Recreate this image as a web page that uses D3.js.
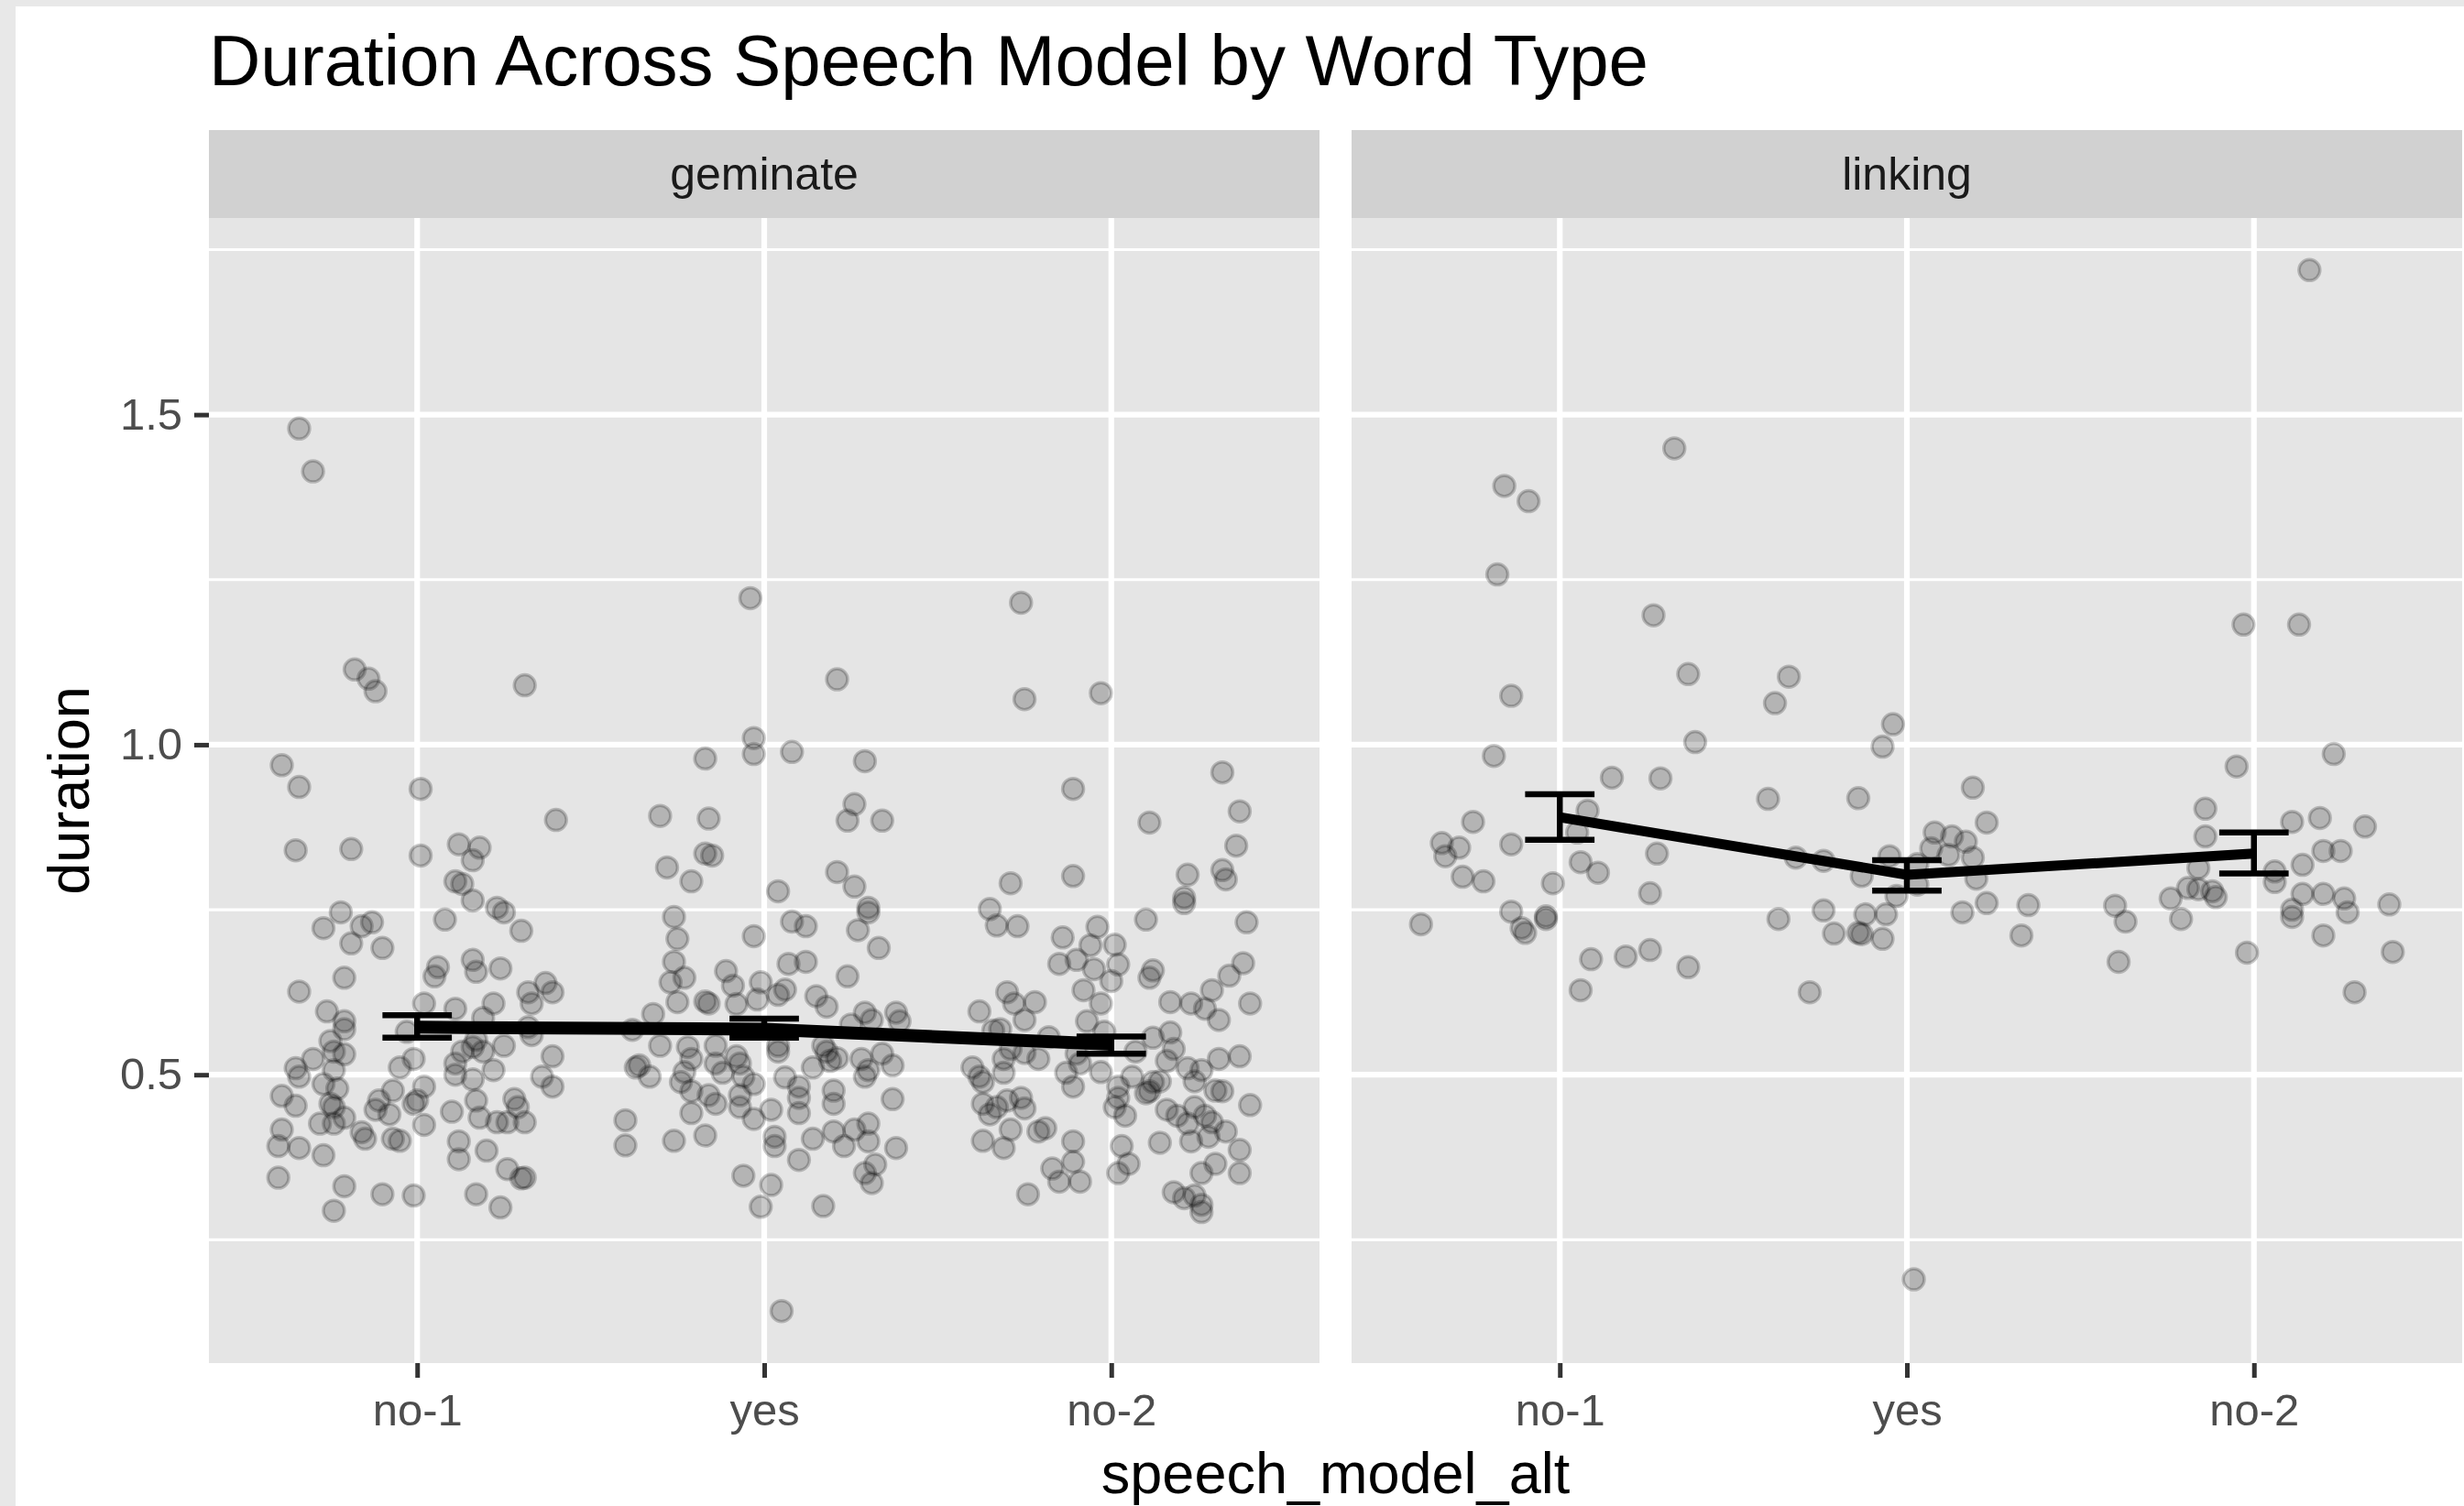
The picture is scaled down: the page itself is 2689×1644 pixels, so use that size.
<!DOCTYPE html>
<html>
<head>
<meta charset="utf-8">
<style>
  body { margin: 0; background: #e8e8e8; }
  svg { display: block; }
  text { font-family: "Liberation Sans", Arial, Helvetica, sans-serif; }
</style>
</head>
<body>
<svg id="chart" width="2689" height="1644"></svg>

<script src="https://cdn.jsdelivr.net/npm/d3@7"></script>
<script>
    // categories and facets
    let categories = ["no-1", "yes", "no-2"]
    let facets = ["geminate", "linking"]
    let yMajor = [0.5, 1.0, 1.5]
    let yMinor = [0.25, 0.75, 1.25, 1.75]

    // jittered points: [jitter offset (in category steps), duration]
    let geminateNo1 = [[-0.39,0.969],[-0.34,0.936],[0.01,0.933],[0.40,0.886],[-0.35,0.840],[-0.19,0.842],[0.01,0.832],[0.12,0.849],[0.18,0.844],[0.16,0.825],[0.11,0.793],[0.13,0.789],[0.16,0.764],[0.23,0.753],[0.25,0.746],[0.30,0.718],[0.08,0.735],[-0.22,0.746],[-0.27,0.722],[-0.16,0.725],[-0.13,0.731],[-0.19,0.699],[-0.10,0.692],[-0.21,0.647],[-0.34,0.626],[0.06,0.663],[0.05,0.649],[0.16,0.674],[0.17,0.656],[0.24,0.661],[0.32,0.625],[0.37,0.639],[0.39,0.625],[0.33,0.608],[0.02,0.608],[0.11,0.600],[0.22,0.608],[-0.26,0.596],[-0.21,0.581],[-0.21,0.569],[-0.03,0.565],[0.19,0.586],[0.17,0.553],[0.25,0.544],[0.33,0.560],[0.32,0.572],[-0.25,0.551],[-0.24,0.535],[-0.21,0.531],[-0.30,0.524],[-0.35,0.510],[-0.34,0.497],[-0.24,0.507],[-0.01,0.524],[-0.05,0.511],[0.11,0.517],[0.13,0.535],[0.16,0.542],[0.19,0.535],[0.11,0.500],[0.16,0.493],[0.22,0.507],[0.39,0.528],[0.36,0.497],[0.39,0.482],[-0.39,0.468],[-0.35,0.453],[-0.27,0.486],[-0.25,0.456],[-0.23,0.479],[-0.24,0.451],[-0.21,0.435],[-0.28,0.426],[-0.24,0.426],[-0.07,0.476],[-0.11,0.461],[-0.12,0.447],[-0.08,0.440],[0.02,0.482],[0.00,0.461],[-0.01,0.456],[0.02,0.424],[0.10,0.444],[0.17,0.461],[0.18,0.435],[0.23,0.428],[0.26,0.428],[0.28,0.463],[0.29,0.451],[0.31,0.428],[-0.39,0.417],[-0.40,0.392],[-0.34,0.389],[-0.27,0.378],[-0.16,0.413],[-0.15,0.403],[-0.07,0.403],[-0.05,0.400],[0.12,0.399],[0.12,0.372],[0.20,0.385],[-0.40,0.344],[-0.21,0.331],[-0.10,0.319],[-0.01,0.317],[-0.24,0.294],[0.17,0.319],[0.24,0.299],[0.26,0.357],[0.30,0.343],[0.31,0.344],[-0.34,1.479],[-0.30,1.414],[-0.18,1.114],[-0.14,1.100],[-0.12,1.081],[0.31,1.090]]
    let geminateYes = [[-0.17,0.979],[-0.03,1.010],[-0.03,0.986],[0.08,0.989],[0.29,0.975],[-0.30,0.892],[-0.16,0.888],[0.26,0.910],[0.24,0.885],[0.34,0.885],[-0.28,0.814],[-0.17,0.835],[-0.15,0.832],[-0.21,0.793],[0.04,0.778],[0.21,0.807],[0.26,0.785],[0.30,0.753],[0.30,0.746],[0.27,0.719],[0.33,0.692],[-0.26,0.739],[-0.25,0.706],[-0.03,0.710],[0.08,0.732],[0.12,0.725],[-0.26,0.671],[-0.23,0.647],[-0.27,0.640],[-0.25,0.610],[-0.11,0.657],[-0.09,0.635],[-0.17,0.611],[-0.16,0.608],[-0.08,0.607],[-0.01,0.640],[-0.02,0.614],[0.07,0.668],[0.12,0.671],[0.06,0.629],[0.04,0.621],[0.24,0.649],[0.15,0.619],[0.18,0.603],[0.29,0.594],[0.31,0.583],[0.38,0.594],[0.39,0.581],[0.25,0.576],[-0.32,0.592],[-0.38,0.568],[-0.30,0.544],[-0.37,0.511],[-0.36,0.514],[-0.33,0.497],[-0.22,0.542],[-0.21,0.524],[-0.23,0.504],[-0.24,0.489],[-0.14,0.544],[-0.14,0.517],[-0.12,0.503],[-0.08,0.528],[-0.07,0.517],[-0.03,0.486],[-0.06,0.497],[0.04,0.535],[0.04,0.544],[0.14,0.511],[0.06,0.496],[0.10,0.482],[0.10,0.465],[0.18,0.535],[0.19,0.521],[0.21,0.525],[0.17,0.544],[0.28,0.524],[0.30,0.507],[0.29,0.497],[0.34,0.532],[0.37,0.514],[-0.21,0.475],[-0.21,0.442],[-0.16,0.469],[-0.14,0.456],[-0.07,0.469],[-0.07,0.451],[-0.03,0.433],[0.02,0.447],[0.10,0.442],[0.20,0.476],[0.20,0.456],[0.37,0.463],[-0.40,0.431],[-0.40,0.393],[-0.26,0.400],[-0.17,0.408],[0.03,0.406],[0.03,0.392],[0.14,0.403],[0.20,0.414],[0.23,0.392],[0.26,0.417],[0.30,0.426],[0.30,0.399],[0.38,0.389],[0.10,0.371],[0.32,0.364],[0.29,0.351],[0.31,0.336],[-0.06,0.347],[0.02,0.333],[-0.01,0.300],[0.17,0.301],[-0.04,1.222],[0.21,1.099],[0.05,0.142]]
    let geminateNo2 = [[0.32,0.958],[-0.11,0.933],[0.37,0.899],[0.11,0.882],[0.36,0.847],[-0.11,0.801],[0.22,0.803],[0.32,0.810],[0.33,0.796],[0.21,0.768],[0.21,0.760],[-0.29,0.790],[-0.35,0.751],[-0.33,0.726],[-0.27,0.725],[0.10,0.735],[0.39,0.731],[-0.14,0.708],[-0.04,0.724],[-0.06,0.696],[0.01,0.697],[-0.15,0.668],[-0.10,0.674],[-0.05,0.660],[0.02,0.667],[0.00,0.642],[0.12,0.658],[0.11,0.647],[0.38,0.669],[0.34,0.650],[-0.08,0.628],[-0.03,0.608],[-0.30,0.625],[-0.28,0.608],[-0.22,0.610],[-0.38,0.596],[-0.25,0.583],[0.29,0.628],[0.17,0.610],[0.23,0.608],[0.27,0.600],[0.31,0.583],[0.40,0.608],[-0.07,0.581],[-0.34,0.567],[-0.32,0.569],[-0.18,0.557],[-0.02,0.565],[-0.29,0.539],[-0.25,0.533],[-0.21,0.524],[-0.40,0.511],[-0.38,0.497],[-0.37,0.489],[-0.31,0.524],[-0.31,0.503],[-0.13,0.503],[-0.11,0.482],[-0.09,0.517],[-0.03,0.504],[-0.10,0.532],[0.12,0.556],[0.17,0.564],[0.18,0.539],[0.07,0.535],[0.16,0.521],[0.31,0.524],[0.37,0.528],[0.06,0.497],[0.02,0.482],[0.22,0.510],[0.24,0.490],[0.26,0.507],[0.12,0.489],[0.11,0.475],[0.14,0.490],[0.10,0.472],[0.32,0.475],[0.30,0.476],[-0.37,0.456],[-0.33,0.451],[-0.30,0.461],[-0.26,0.465],[-0.25,0.449],[-0.35,0.440],[0.02,0.465],[0.01,0.451],[0.04,0.438],[0.16,0.447],[0.19,0.438],[0.24,0.451],[0.22,0.426],[0.27,0.438],[0.29,0.428],[0.33,0.414],[0.28,0.406],[0.23,0.399],[0.40,0.454],[0.37,0.386],[-0.37,0.400],[-0.31,0.389],[-0.29,0.417],[-0.21,0.414],[-0.19,0.419],[-0.11,0.399],[-0.11,0.368],[-0.17,0.358],[-0.15,0.338],[-0.09,0.338],[-0.24,0.319],[0.03,0.392],[0.05,0.365],[0.02,0.351],[0.14,0.397],[0.26,0.351],[0.30,0.365],[0.37,0.351],[0.18,0.322],[0.21,0.313],[0.24,0.317],[0.26,0.303],[0.26,0.292],[-0.26,1.215],[-0.25,1.069],[-0.03,1.078]]
    let linkingNo1 = [[-0.16,1.392],[-0.09,1.369],[-0.18,1.258],[0.33,1.449],[0.27,1.196],[-0.14,1.074],[0.37,1.107],[0.39,1.004],[-0.19,0.983],[0.15,0.950],[0.29,0.949],[0.08,0.900],[-0.25,0.883],[-0.34,0.851],[-0.29,0.844],[-0.33,0.831],[-0.14,0.849],[0.05,0.867],[0.06,0.822],[0.11,0.806],[0.28,0.835],[-0.28,0.800],[-0.22,0.793],[-0.02,0.790],[0.26,0.775],[-0.40,0.728],[-0.14,0.747],[-0.11,0.722],[-0.10,0.715],[-0.04,0.740],[-0.04,0.736],[0.09,0.675],[0.19,0.679],[0.26,0.689],[0.37,0.663],[0.06,0.628]]
    let linkingYes = [[-0.34,1.103],[-0.38,1.063],[-0.04,1.031],[-0.07,0.997],[-0.40,0.918],[-0.14,0.919],[-0.32,0.829],[-0.24,0.824],[-0.13,0.801],[-0.05,0.831],[-0.37,0.736],[-0.24,0.749],[-0.28,0.625],[-0.21,0.714],[-0.14,0.715],[-0.13,0.713],[-0.12,0.743],[-0.07,0.706],[-0.06,0.743],[-0.03,0.771],[0.08,0.867],[0.13,0.861],[0.17,0.853],[0.07,0.843],[0.12,0.833],[0.19,0.829],[0.03,0.819],[0.03,0.788],[0.20,0.797],[0.23,0.760],[0.16,0.746],[0.35,0.757],[0.33,0.711],[0.19,0.935],[0.23,0.882],[0.02,0.190]]
    let linkingNo2 = [[0.16,1.719],[-0.03,1.182],[0.13,1.182],[0.23,0.986],[-0.05,0.967],[-0.14,0.903],[-0.14,0.861],[0.11,0.883],[0.19,0.889],[0.32,0.876],[0.20,0.839],[0.25,0.839],[0.14,0.818],[0.06,0.808],[0.06,0.792],[-0.40,0.756],[-0.37,0.732],[-0.39,0.671],[-0.16,0.813],[-0.24,0.767],[-0.21,0.736],[-0.19,0.783],[-0.16,0.781],[-0.12,0.778],[-0.11,0.769],[-0.02,0.685],[0.14,0.774],[0.20,0.774],[0.26,0.767],[0.27,0.746],[0.11,0.750],[0.11,0.739],[0.39,0.758],[0.20,0.711],[0.40,0.686],[0.29,0.625]]

    // summary per category: mean and error bar limits
    let geminateMean = [0.572, 0.569, 0.546]
    let geminateLow = [0.556, 0.556, 0.532]
    let geminateHigh = [0.590, 0.585, 0.558]
    let linkingMean = [0.890, 0.803, 0.835]
    let linkingLow = [0.856, 0.779, 0.805]
    let linkingHigh = [0.925, 0.825, 0.867]

    let pointsByFacet = {
        geminate: [geminateNo1, geminateYes, geminateNo2],
        linking: [linkingNo1, linkingYes, linkingNo2]
    }
    let summaryByFacet = {
        geminate: { mean: geminateMean, low: geminateLow, high: geminateHigh },
        linking: { mean: linkingMean, low: linkingLow, high: linkingHigh }
    }

    let svg = d3.select("#chart")
    let panelTop = 238
    let panelBottom = 1488
    let stripTop = 142
    let panelLefts = [228, 1475]
    let panelWidth = 1212

    // white plot background inside the light grey frame
    svg.append("rect").attr("x", 17).attr("y", 7).attr("width", 2689 - 17).attr("height", 1644 - 7).attr("fill", "#ffffff")

    // y range from all values, expanded 5% like ggplot
    let allValues = []
    facets.forEach(f => pointsByFacet[f].forEach(arr => arr.forEach(p => allValues.push(p[1]))))
    let ext = d3.extent(allValues)
    let pad = (ext[1] - ext[0]) * 0.05
    let y = d3.scaleLinear()
        .domain([ext[0] - pad, ext[1] + pad])
        .range([panelBottom, panelTop])

    facets.forEach((facet, fi) => {
        let left = panelLefts[fi]
        let x = d3.scalePoint()
            .domain(categories)
            .range([left, left + panelWidth])
            .padding(0.6)
        let step = x.step()
        let g = svg.append("g")

        // strip
        g.append("rect").attr("x", left).attr("y", stripTop).attr("width", panelWidth).attr("height", panelTop - stripTop).attr("fill", "#d1d1d1")
        g.append("text").attr("x", left + panelWidth / 2).attr("y", 207).attr("text-anchor", "middle")
            .attr("font-size", 50).attr("fill", "#1a1a1a").text(facet)

        // panel + grid
        g.append("rect").attr("x", left).attr("y", panelTop).attr("width", panelWidth).attr("height", panelBottom - panelTop).attr("fill", "#e5e5e5")
        g.selectAll(".minor").data(yMinor).enter().append("line")
            .attr("x1", left).attr("x2", left + panelWidth)
            .attr("y1", d => y(d)).attr("y2", d => y(d))
            .attr("stroke", "#fff").attr("stroke-width", 3.2)
        g.selectAll(".major").data(yMajor).enter().append("line")
            .attr("x1", left).attr("x2", left + panelWidth)
            .attr("y1", d => y(d)).attr("y2", d => y(d))
            .attr("stroke", "#fff").attr("stroke-width", 6.2)
        g.selectAll(".vmajor").data(categories).enter().append("line")
            .attr("x1", d => x(d)).attr("x2", d => x(d))
            .attr("y1", panelTop).attr("y2", panelBottom)
            .attr("stroke", "#fff").attr("stroke-width", 6.2)

        // jittered points
        categories.forEach((cat, ci) => {
            g.selectAll(".pt" + ci).data(pointsByFacet[facet][ci]).enter().append("circle")
                .attr("cx", d => x(cat) + d[0] * step)
                .attr("cy", d => y(d[1]))
                .attr("r", 11.5)
                .attr("fill", "rgba(0,0,0,0.21)")
                .attr("stroke", "rgba(0,0,0,0.21)")
                .attr("stroke-width", 3.5)
        })

        // error bars
        let s = summaryByFacet[facet]
        let capHalf = step * 0.1
        categories.forEach((cat, ci) => {
            let cx = x(cat)
            let eb = g.append("g").attr("stroke", "#000").attr("stroke-width", 6.5)
            eb.append("line").attr("x1", cx).attr("x2", cx).attr("y1", y(s.low[ci])).attr("y2", y(s.high[ci]))
            eb.append("line").attr("x1", cx - capHalf).attr("x2", cx + capHalf).attr("y1", y(s.low[ci])).attr("y2", y(s.low[ci]))
            eb.append("line").attr("x1", cx - capHalf).attr("x2", cx + capHalf).attr("y1", y(s.high[ci])).attr("y2", y(s.high[ci]))
        })

        // mean line
        let line = d3.line().x(d => x(d[0])).y(d => y(d[1]))
        g.append("path")
            .datum(categories.map((c, i) => [c, s.mean[i]]))
            .attr("d", line)
            .attr("fill", "none")
            .attr("stroke", "#000")
            .attr("stroke-width", facet == "geminate" ? 14 : 11)

        // x axis
        let xAxis = g.append("g")
            .attr("transform", `translate(0,${panelBottom})`)
            .call(d3.axisBottom(x).tickSize(16).tickPadding(17))
        xAxis.select(".domain").remove()
        xAxis.selectAll("line").attr("stroke", "#333").attr("stroke-width", 5)
        xAxis.selectAll("text").attr("font-size", 49).attr("fill", "#4d4d4d")
            .style("font-family", "'Liberation Sans', Arial, sans-serif")
    })

    // y axis on left panel
    let yAxis = svg.append("g")
        .attr("transform", `translate(${panelLefts[0]},0)`)
        .call(d3.axisLeft(y).tickValues(yMajor).tickFormat(d3.format(".1f")).tickSize(16).tickPadding(13))
    yAxis.select(".domain").remove()
    yAxis.selectAll("line").attr("stroke", "#333").attr("stroke-width", 5)
    yAxis.selectAll("text").attr("font-size", 49).attr("fill", "#4d4d4d")
        .style("font-family", "'Liberation Sans', Arial, sans-serif")

    // titles
    svg.append("text").attr("x", 228).attr("y", 93).attr("font-size", 78).attr("fill", "#000")
        .text("Duration Across Speech Model by Word Type")
    svg.append("text").attr("x", (panelLefts[0] + panelLefts[1] + panelWidth) / 2).attr("y", 1630)
        .attr("text-anchor", "middle").attr("font-size", 63).attr("fill", "#000")
        .text("speech_model_alt")
    svg.append("text")
        .attr("transform", `translate(97,${(panelTop + panelBottom) / 2}) rotate(-90)`)
        .attr("text-anchor", "middle").attr("font-size", 63).attr("fill", "#000")
        .text("duration")
</script>
</body>
</html>
